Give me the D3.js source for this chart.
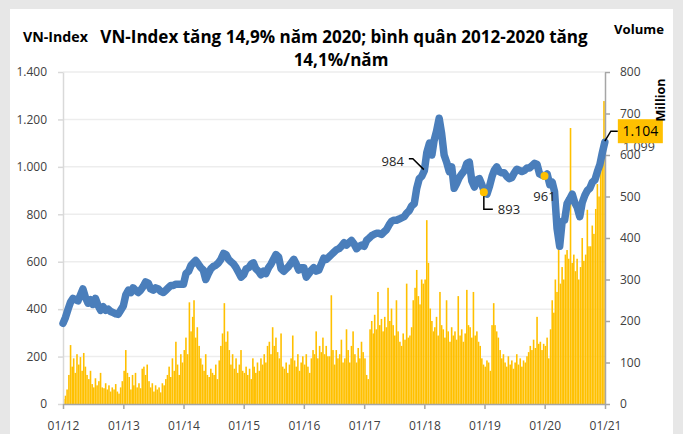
<!DOCTYPE html>
<html><head><meta charset="utf-8">
<script src="https://cdn.jsdelivr.net/npm/d3@7"></script>
<style>
body{margin:0;background:#e7e7e7;}
svg{display:block;font-family:"Open Sans","Noto Sans",sans-serif;}
</style></head><body>
<svg id="c" width="683" height="434"></svg>
<script>
// ---------- DATA ----------
const months = [
"2012-01","2012-02","2012-03","2012-04","2012-05","2012-06","2012-07","2012-08","2012-09","2012-10","2012-11","2012-12",
"2013-01","2013-02","2013-03","2013-04","2013-05","2013-06","2013-07","2013-08","2013-09","2013-10","2013-11","2013-12",
"2014-01","2014-02","2014-03","2014-04","2014-05","2014-06","2014-07","2014-08","2014-09","2014-10","2014-11","2014-12",
"2015-01","2015-02","2015-03","2015-04","2015-05","2015-06","2015-07","2015-08","2015-09","2015-10","2015-11","2015-12",
"2016-01","2016-02","2016-03","2016-04","2016-05","2016-06","2016-07","2016-08","2016-09","2016-10","2016-11","2016-12",
"2017-01","2017-02","2017-03","2017-04","2017-05","2017-06","2017-07","2017-08","2017-09","2017-10","2017-11","2017-12",
"2018-01","2018-02","2018-03","2018-04","2018-05","2018-06","2018-07","2018-08","2018-09","2018-10","2018-11","2018-12",
"2019-01","2019-02","2019-03","2019-04","2019-05","2019-06","2019-07","2019-08","2019-09","2019-10","2019-11","2019-12",
"2020-01","2020-02","2020-03","2020-04","2020-05","2020-06","2020-07","2020-08","2020-09","2020-10","2020-11","2020-12"
];
// VN-Index, two readings per month (1st and 16th)
const indexValues = [
340,365,400,430,445,440,435,460,485,450,425,440,420,445,415,395,410,395,400,390,385,380,378,395,
413,460,480,470,490,480,470,480,495,515,510,485,480,490,485,475,470,480,490,500,500,505,505,505,
505,550,560,585,595,605,590,575,565,525,550,570,580,585,595,610,635,630,610,600,590,575,555,535,
545,570,575,590,595,570,560,545,560,550,575,590,610,630,620,570,560,570,580,595,610,590,565,575,
575,535,550,565,575,560,565,590,615,610,620,630,640,650,655,665,680,670,680,690,675,655,665,670,
665,690,700,710,715,720,720,715,725,735,755,770,775,775,780,785,790,805,815,835,845,910,950,960,
984,1060,1100,1050,1110,1150,1205,1140,1050,1020,980,1000,910,930,955,970,985,1015,1020,940,915,945,950,925,
893,885,920,960,985,1000,980,975,975,960,950,955,975,990,985,980,985,995,995,1005,1015,1010,970,965,
961,970,925,935,895,740,665,770,775,845,865,885,850,830,790,850,880,900,910,935,945,980,1010,1060
];
const lastDate = "2020-12-31";
const lastValue = 1104;
// Volume (million shares), three readings per month (1st, 11th, 21st)
const volumeValues = [
12,20,35, 70,142,90, 110,75,120, 95,113,80, 123,90,70, 60,80,48, 40,62,45, 55,75,40, 38,50,35, 45,30,40, 35,48,30, 25,40,55,
80,130,75, 65,35,70, 45,75,40, 50,38,85, 90,70,95, 55,40,50, 30,45,35, 40,28,50, 45,60,70, 90,65,110, 80,150,95, 70,120,100,
130,160,120, 245,175,210, 250,160,185, 140,110,95, 80,120,70, 65,85,75, 70,95,60, 105,140,170, 243,150,175, 130,95,120, 85,110,75, 95,130,80,
75,90,70, 85,60,110, 90,75,100, 80,110,95, 120,100,140, 150,120,185, 140,160,125, 110,170,90, 85,100,75, 95,110,165, 105,90,120, 80,100,115,
95,120,90, 75,110,130, 120,175,110, 140,125,160, 120,140,115, 115,262,130, 95,130,110, 120,155,100, 110,180,130, 100,140,175, 120,100,135, 110,150,125,
110,70,60, 180,200,170, 215,180,270, 190,205,175, 210,185,280, 200,230,190, 165,250,175, 150,140,170, 155,290,160, 165,185,250, 280,323,260, 240,300,290,
300,443,340, 230,200,175, 185,210,165, 270,190,180, 160,250,175, 150,185,165, 175,155,260, 165,180,150, 170,275,190, 185,160,270, 165,175,150, 140,110,95,
90,105,100, 80,190,243, 190,175,160, 130,110,120, 100,90,115, 95,105,85, 100,120,95, 110,90,105, 100,115,125, 140,130,155, 135,210,145, 150,130,145,
140,160,110, 180,250,220, 300,270,388, 290,330,300, 360,371,350, 665,340,360, 320,350,300, 330,400,345, 360,468,380, 380,430,410, 470,530,500, 560,620,730
];
const xTickDates = ["2012-01-01","2013-01-01","2014-01-01","2015-01-01","2016-01-01","2017-01-01","2018-01-01","2019-01-01","2020-01-01","2021-01-01"];
const xTickLabels = ["01/12","01/13","01/14","01/15","01/16","01/17","01/18","01/19","01/20","01/21"];
const leftTicks = [0,200,400,600,800,1000,1200,1400];
const leftTickLabels = ["0","200","400","600","800","1.000","1.200","1.400"];
const rightTicks = [0,100,200,300,400,500,600,700,800];
const rightTickLabels = ["0","100","200","300","400","500","600","700","800"];
const notes = [
  {date:"2017-12-29", value:984, label:"984"},
  {date:"2018-12-28", value:893, label:"893"},
  {date:"2019-12-31", value:961, label:"961"},
  {date:"2020-12-31", value:1104, label:"1.104"},
  {date:"2020-12-30", value:1099, label:"1.099"}
];
const titleLines = ["VN-Index tăng 14,9% năm 2020; bình quân 2012-2020 tăng","14,1%/năm"];

// ---------- BUILD ----------
const parse = d3.timeParse("%Y-%m-%d");
const linePts = [];
months.forEach((m,i)=>{
  linePts.push({d:parse(m+"-01"), v:indexValues[2*i]});
  linePts.push({d:parse(m+"-16"), v:indexValues[2*i+1]});
});
linePts.push({d:parse(lastDate), v:lastValue});
const volPts = [];
months.forEach((m,i)=>{
  ["-01","-11","-21"].forEach((s,k)=>volPts.push({d:parse(m+s), v:volumeValues[3*i+k]}));
});

const svg = d3.select("#c");
const L=63, R=605, T=72, B=404;
const x = d3.scaleTime().domain([parse("2012-01-01"), parse("2021-01-01")]).range([L,R]);
const yL = d3.scaleLinear().domain([0,1400]).range([B,T]);
const yR = d3.scaleLinear().domain([0,800]).range([B,T]);

// panel
svg.append("rect").attr("x",10).attr("y",9).attr("width",663).attr("height",440).attr("fill","#fff");

// gridlines
svg.append("g").selectAll("line").data(leftTicks.filter(d=>d>0)).join("line")
  .attr("x1",L).attr("x2",R).attr("y1",d=>yL(d)).attr("y2",d=>yL(d))
  .attr("stroke","#ededed").attr("stroke-width",1.5);

// volume bars
const day = 864e5;
svg.append("g").selectAll("rect").data(volPts).join("rect")
  .attr("x",d=>x(d.d))
  .attr("width",d=>(x(new Date(+d.d+10*day))-x(d.d))*0.97)
  .attr("y",d=>yR(d.v))
  .attr("height",d=>B-yR(d.v))
  .attr("fill","#ffc000");

// axes
const fs = 12;
const ax = d3.axisLeft(yL).tickValues(leftTicks).tickFormat((d,i)=>leftTickLabels[i]).tickSize(5).tickPadding(11).tickSizeOuter(0);
const gL = svg.append("g").attr("transform",`translate(${L},0)`).call(ax);
gL.select(".domain").attr("stroke","#d9d9d9").attr("stroke-width",1.5);
gL.selectAll(".tick line").attr("stroke","#d9d9d9").attr("stroke-width",1.5);

const axR = d3.axisRight(yR).tickValues(rightTicks).tickFormat((d,i)=>rightTickLabels[i]).tickSize(5).tickPadding(10).tickSizeOuter(0);
const gR = svg.append("g").attr("transform",`translate(${R},0)`).call(axR);
gR.select(".domain").attr("stroke","#a6a6a6").attr("stroke-width",1.5);
gR.selectAll(".tick line").attr("stroke","#a6a6a6").attr("stroke-width",1.5);

const axB = d3.axisBottom(x).tickValues(xTickDates.map(parse)).tickFormat((d,i)=>xTickLabels[i]).tickSize(5).tickPadding(12).tickSizeOuter(0);
const gB = svg.append("g").attr("transform",`translate(0,${B})`).call(axB);
gB.select(".domain").attr("stroke","#a6a6a6").attr("stroke-width",1.5);
gB.selectAll(".tick line").attr("stroke","#a6a6a6").attr("stroke-width",1.5);

[gL,gR,gB].forEach(g=>g.selectAll("text").attr("font-size",fs).attr("fill","#404040").attr("font-family","'Open Sans',sans-serif"));

// index line
svg.append("path").datum(linePts)
  .attr("d", d3.line().x(d=>x(d.d)).y(d=>yL(d.v)))
  .attr("fill","none").attr("stroke","#4a7ebb").attr("stroke-width",7.5)
  .attr("stroke-linejoin","round").attr("stroke-linecap","round");

// annotations
const P = n => ({x:x(parse(n.date)), y:yL(n.value)});
const ink = "#000";
// 984
{ const p=P(notes[0]);
  svg.append("path").attr("d",`M${p.x-15},${p.y-12}H${p.x-11}L${p.x},${p.y-1}`).attr("fill","none").attr("stroke",ink).attr("stroke-width",1.5);
  svg.append("text").attr("x",p.x-20).attr("y",p.y-5).attr("text-anchor","end").attr("font-size",13).attr("fill","#262626").text(notes[0].label);
}
// 893
{ const p=P(notes[1]);
  svg.append("path").attr("d",`M${p.x},${p.y+3}V${p.y+17}H${p.x+9}`).attr("fill","none").attr("stroke",ink).attr("stroke-width",1.5);
  svg.append("circle").attr("cx",p.x).attr("cy",p.y).attr("r",4).attr("fill","#ffc000");
  svg.append("text").attr("x",p.x+14).attr("y",p.y+22).attr("font-size",13).attr("fill","#262626").text(notes[1].label);
}
// 961
{ const p=P(notes[2]);
  svg.append("circle").attr("cx",p.x).attr("cy",p.y).attr("r",4).attr("fill","#ffc000");
  svg.append("text").attr("x",p.x).attr("y",p.y+25).attr("text-anchor","middle").attr("font-size",13).attr("fill","#262626").text(notes[2].label);
}
// 1.099 (partially hidden under the 1.104 box, as in the reference)
{ const p=P(notes[4]);
  svg.append("text").attr("x",623).attr("y",p.y+8).attr("font-size",12.5).attr("fill","#404040").text(notes[4].label);
}
// 1.104 box
{ const p=P(notes[3]);
  svg.append("path").attr("d",`M${p.x},${p.y-1}L${p.x+6},${p.y-11}H${p.x+13}`).attr("fill","none").attr("stroke",ink).attr("stroke-width",1.5);
  svg.append("rect").attr("x",p.x+13).attr("y",p.y-23).attr("width",45).attr("height",24).attr("fill","#ffc000");
  svg.append("text").attr("x",p.x+35.5).attr("y",p.y-6).attr("text-anchor","middle").attr("font-size",14).attr("fill","#000").text(notes[3].label);
}

// titles
function fit(sel, target, base){ const w = sel.node().getComputedTextLength(); sel.attr("font-size", base*target/w); return base*target/w; }
const t1 = svg.append("text").attr("x",344).attr("y",43).attr("text-anchor","middle")
  .attr("font-size",16).attr("font-weight",700).attr("fill","#000").text(titleLines[0]);
const tfs = fit(t1, 488, 16);
svg.append("text").attr("x",341).attr("y",66).attr("text-anchor","middle")
  .attr("font-size",tfs).attr("font-weight",700).attr("fill","#000").text(titleLines[1]);
const vn = svg.append("text").attr("x",23).attr("y",42).attr("font-size",12).attr("font-weight",700).attr("fill","#000").text("VN-Index");
fit(vn, 65, 12);
const vol = svg.append("text").attr("x",614).attr("y",34).attr("font-size",12).attr("font-weight",700).attr("fill","#000").text("Volume");
fit(vol, 50, 12);
svg.append("text").attr("transform","translate(665,100) rotate(-90)").attr("text-anchor","middle")
  .attr("font-size",12.5).attr("font-weight",700).attr("fill","#000").text("Million");
</script>
</body></html>
